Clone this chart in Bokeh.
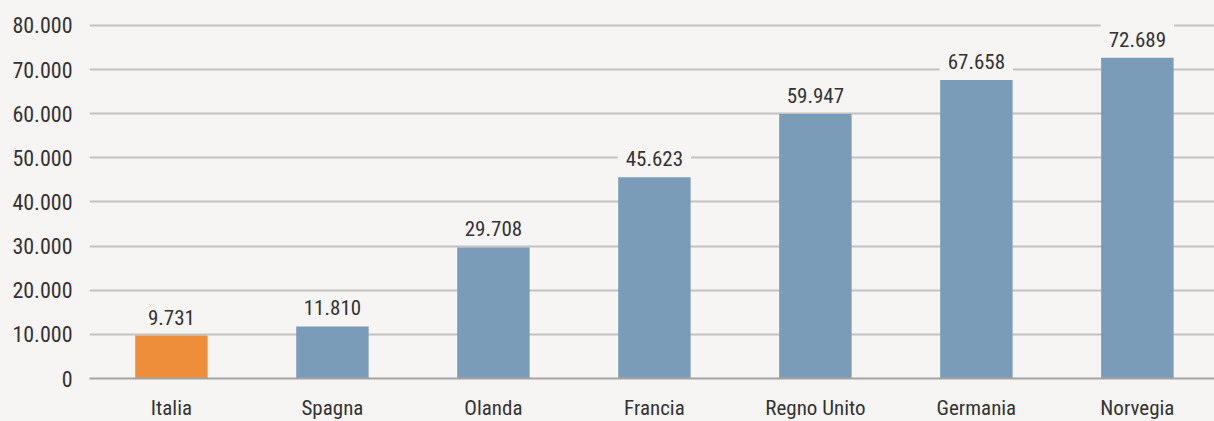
from bokeh.plotting import figure
from bokeh.models import Range1d, FixedTicker, Label
from bokeh.embed import file_html
from bokeh.resources import INLINE

categories = ["Italia", "Spagna", "Olanda", "Francia", "Regno Unito", "Germania", "Norvegia"]
values = [9731, 11810, 29708, 45623, 59947, 67658, 72689]
value_labels = ["9.731", "11.810", "29.708", "45.623", "59.947", "67.658", "72.689"]
y_ticks = [0, 10000, 20000, 30000, 40000, 50000, 60000, 70000, 80000]
y_tick_labels = ["0", "10.000", "20.000", "30.000", "40.000", "50.000", "60.000", "70.000", "80.000"]
highlight = "Italia"

BG = "#f6f5f3"
BLUE = "#7b9cb8"
ORANGE = "#ef8e3a"
TEXT = "#333333"
FONT = "Roboto Condensed, Liberation Sans Narrow, DejaVu Sans Condensed, sans-serif"

xs = list(range(len(categories)))
colors = [ORANGE if c == highlight else BLUE for c in categories]

p = figure(frame_width=1125, frame_height=355, output_backend="svg", toolbar_location=None,
           x_range=Range1d(-0.509, 6.479), y_range=Range1d(0, 80453),
           min_border_left=89, min_border_right=0, min_border_top=23, min_border_bottom=36)
p.background_fill_color = BG
p.border_fill_color = BG
p.outline_line_color = None

p.vbar(x=xs, top=values, width=0.45, color=colors, line_color=None)

for x, v, t in zip(xs, values, value_labels):
    p.add_layout(Label(x=x, y=v, text=t, text_align="center", text_baseline="bottom",
                       y_offset=3, text_font=FONT, text_font_size="21px", text_color=TEXT,
                       background_fill_color=BG, padding=8))

p.xaxis.ticker = FixedTicker(ticks=xs)
p.xaxis.major_label_overrides = {i: c for i, c in zip(xs, categories)}
p.xaxis.major_tick_line_color = None
p.xaxis.minor_tick_line_color = None
p.xaxis.axis_line_color = "#a3a3a3"
p.xaxis.axis_line_width = 2
p.xaxis.major_label_text_font = FONT
p.xaxis.major_label_text_font_size = "21px"
p.xaxis.major_label_text_color = TEXT
p.xaxis.major_label_standoff = 11

p.yaxis.ticker = FixedTicker(ticks=y_ticks)
p.yaxis.major_label_overrides = {t: l for t, l in zip(y_ticks, y_tick_labels)}
p.yaxis.major_tick_line_color = None
p.yaxis.minor_tick_line_color = None
p.yaxis.axis_line_color = None
p.yaxis.major_label_text_font = FONT
p.yaxis.major_label_text_font_size = "22px"
p.yaxis.major_label_text_color = TEXT
p.yaxis.major_label_standoff = 11

p.xgrid.grid_line_color = None
p.ygrid.ticker = FixedTicker(ticks=y_ticks[1:])
p.ygrid.grid_line_color = "#c2c2c2"
p.ygrid.grid_line_width = 2

html = file_html(p, INLINE)
html = html.replace("</head>", "<style>html, body { background: %s; }</style></head>" % BG, 1)
open("out.html", "w").write(html)
